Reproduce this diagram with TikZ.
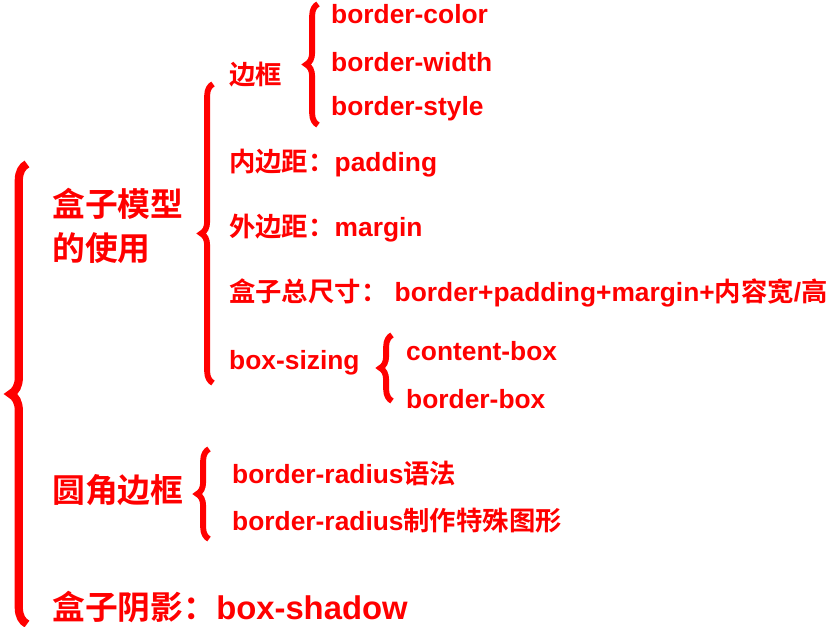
\documentclass[tikz,border=0pt]{standalone}
\usepackage{fontspec}
\setmainfont{Liberation Sans}
\newfontfamily\cjk{Noto Sans CJK SC}[BoldFont={* Bold}]
\newcommand{\zh}[1]{{\cjk\bfseries #1}}
\usetikzlibrary{decorations.pathreplacing, positioning}

\tikzset{
  lbl/.style={anchor=west, text=red, font=\bfseries\fontsize{22.5}{26}\selectfont, inner sep=0pt},
  big/.style={lbl, font=\bfseries\fontsize{28}{37}\selectfont, align=left},
  brc/.style={draw=red, line width=5pt, decorate, decoration={brace, amplitude=#1}},
  brc/.default=10pt
}

\begin{document}
\begin{tikzpicture}[x=0.03cm, y=-0.03cm]
  \useasboundingbox (0,0) rectangle (834,627);

  % top level
  \node[big] (model) at (52,226) {\zh{盒子模型}\\\zh{的使用}};
  \node[big] (round) at (52,490) {\zh{圆角边框}};
  \node[big] (shadow) at (52,607) {\zh{盒子阴影：}box-shadow};

  % box model items
  \node[lbl] (frame) at (229,75) {\zh{边框}};
  \node[lbl] (pad) at (229,163) {\zh{内边距：}padding};
  \node[lbl] (mar) at (229,228) {\zh{外边距：}margin};
  \node[lbl] (total) at (229,293) {\zh{盒子总尺寸：} border+padding+margin+\zh{内容宽}/\zh{高}};
  \node[lbl] (sizing) at (229,363) {box-sizing};

  \node[lbl] (bcolor) at (331,14) {border-color};
  \node[lbl] (bwidth) at (331,62) {border-width};
  \node[lbl] (bstyle) at (331,109) {border-style};

  \node[lbl] (cbox) at (406,351) {content-box};
  \node[lbl] (bbox) at (406,399) {border-box};

  \node[lbl] (rsyn) at (232,473) {border-radius\zh{语法}};
  \node[lbl] (rshape) at (232,521) {border-radius\zh{制作特殊图形}};

  % braces
  \coordinate (b1s) at (27,624);  \coordinate (b1e) at (27,164);
  \coordinate (b2s) at (213,383); \coordinate (b2e) at (213,84);
  \coordinate (b3s) at (318,125); \coordinate (b3e) at (318,4);
  \coordinate (b4s) at (392,401); \coordinate (b4e) at (392,335);
  \coordinate (b5s) at (209,539); \coordinate (b5e) at (209,449);
  \draw[brc=14pt, line width=7pt] (b1s) -- (b1e);
  \draw[brc] (b2s) -- (b2e);
  \draw[brc] (b3s) -- (b3e);
  \draw[brc] (b4s) -- (b4e);
  \draw[brc] (b5s) -- (b5e);
\end{tikzpicture}
\end{document}
